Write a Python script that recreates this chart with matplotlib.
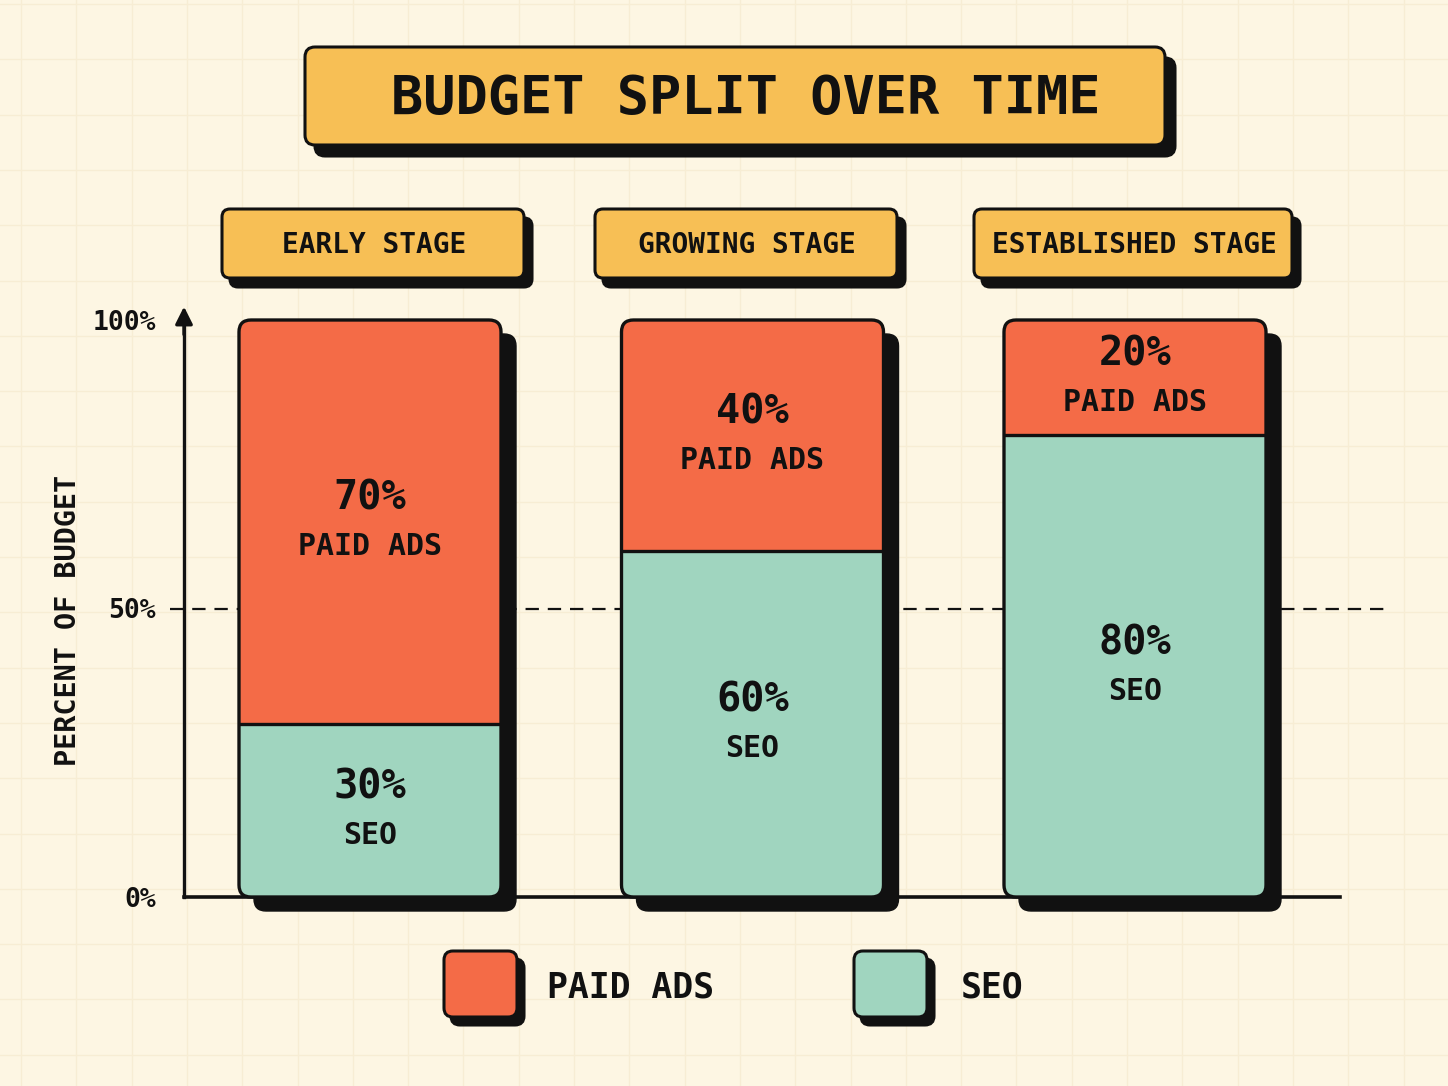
import numpy as np
import matplotlib
matplotlib.use('Agg')
import matplotlib.pyplot as plt
from matplotlib.patches import FancyBboxPatch
from matplotlib.transforms import offset_copy

# =============================================================================
# data
# =============================================================================
stages = ['EARLY STAGE', 'GROWING STAGE', 'ESTABLISHED STAGE']
series_names = ['PAID ADS', 'SEO']
paid_ads = [70, 40, 20]
seo = [30, 60, 80]
y_ticks = [0, 50, 100]
y_tick_labels = ['0%', '50%', '100%']
title = 'BUDGET SPLIT OVER TIME'
y_label = 'PERCENT OF BUDGET'

# =============================================================================
# style
# =============================================================================
BG = '#FDF6E3'
GRID = '#F7EDD4'
ORANGE = '#F46B47'
TEAL = '#A0D5BF'
YELLOW = '#F7BF55'
INK = '#111111'
FONT = 'DejaVu Sans Mono'
plt.rcParams['font.family'] = FONT

W, H = 1448, 1086
fig = plt.figure(figsize=(W / 100, H / 100), dpi=100, facecolor=BG)

# full figure axes in pixel coords for background and boxes
deco = fig.add_axes([0, 0, 1, 1])
deco.set_xlim(0, W)
deco.set_ylim(H, 0)
deco.axis('off')
deco.set_facecolor(BG)
for gx in np.arange(21, W, 55.3):
    deco.axvline(gx, color=GRID, lw=1, zorder=0)
for gy in np.arange(4, H, 55.3):
    deco.axhline(gy, color=GRID, lw=1, zorder=0)


def box(x0, y0, w, h, fc, shadow=(10, 10), r=10, lw=2.2):
    sh = FancyBboxPatch((x0 + shadow[0], y0 + shadow[1]), w, h,
                        boxstyle='round,pad=0,rounding_size=%d' % r,
                        fc=INK, ec=INK, lw=lw, zorder=2)
    deco.add_patch(sh)
    b = FancyBboxPatch((x0, y0), w, h,
                       boxstyle='round,pad=0,rounding_size=%d' % r,
                       fc=fc, ec=INK, lw=lw, zorder=3)
    deco.add_patch(b)


## title
box(305, 47, 860, 98, YELLOW, shadow=(10, 11))
deco.text(746, 99, title, fontsize=38.5, fontweight='bold', color=INK,
          ha='center', va='center', zorder=4)

## stage labels
stage_boxes = [(222, 302), (595, 302), (974, 318)]
for (bx, bw), lab in zip(stage_boxes, stages):
    box(bx, 209, bw, 69, YELLOW, shadow=(8, 9), r=8)
    deco.text(bx + bw / 2 + 1, 245, lab, fontsize=20, color=INK,
              ha='center', va='center', zorder=4, fontweight='semibold')

## legend
legend_x = [(444, 547), (854, 961)]
for (sx, tx), name, col in zip(legend_x, series_names, [ORANGE, TEAL]):
    box(sx, 951, 73, 66, col, shadow=(7, 8), r=9)
    deco.text(tx, 988, name, fontsize=25, color=INK, ha='left', va='center',
              zorder=4, fontweight='bold')

# =============================================================================
# data axes
# =============================================================================
ax_l, ax_r, ax_b, ax_t = 184, 1340, 897, 320
ax = fig.add_axes([ax_l / W, 1 - ax_b / H, (ax_r - ax_l) / W, (ax_b - ax_t) / H])
ax.set_facecolor('none')
px_x = 382.5  # pixels per category
px_y = (ax_b - ax_t) / 100.0
ax.set_xlim(-(370 - ax_l) / px_x, 2 + (ax_r - 1135) / px_x)
ax.set_ylim(0, 100)

for s in ['top', 'right']:
    ax.spines[s].set_visible(False)
ax.spines['left'].set_linewidth(2.4)
ax.spines['bottom'].set_linewidth(2.6)
ax.spines['left'].set_color(INK)
ax.spines['bottom'].set_color(INK)
ax.set_xticks([])
ax.set_yticks(y_ticks)
ax.set_yticklabels(y_tick_labels, fontsize=19, color=INK, fontweight='semibold')
ax.tick_params(axis='y', length=0, pad=20)

ax.annotate('', xy=(0, 1.028), xycoords='axes fraction', xytext=(0, 0.97),
            arrowprops=dict(arrowstyle='-|>', color=INK, lw=2.4, mutation_scale=26),
            annotation_clip=False)

# dashed 50% reference line
ax.plot([-14 / px_x + ax.get_xlim()[0], ax.get_xlim()[1] + 50 / px_x], [50, 50],
        color=INK, lw=1.6, ls=(0, (6, 4)), zorder=1, clip_on=False)

fig.text(68 / W, 1 - 620 / H, y_label, rotation=90, fontsize=20.5, color=INK,
         ha='center', va='center', fontweight='semibold')

bw = 0.685
rx = 12 / px_x
asp = px_x / px_y
shadow_tr = offset_copy(ax.transData, fig=fig, x=15, y=-14, units='dots')
for i in range(len(stages)):
    x0 = i - bw / 2
    sh = FancyBboxPatch((x0, 0), bw, 100, boxstyle='round,pad=0,rounding_size=%f' % rx,
                        mutation_aspect=asp, transform=shadow_tr, fc=INK, ec=INK,
                        lw=1, zorder=2, clip_on=False)
    ax.add_patch(sh)
    outline = FancyBboxPatch((x0, 0), bw, 100, boxstyle='round,pad=0,rounding_size=%f' % rx,
                             mutation_aspect=asp, fc='none', ec=INK, lw=2.4,
                             zorder=5, clip_on=False)
    ax.add_patch(outline)
    b1 = ax.bar(i, seo[i], bw, bottom=0, color=TEAL, zorder=3)
    b2 = ax.bar(i, paid_ads[i], bw, bottom=seo[i], color=ORANGE, zorder=3)
    for p in list(b1) + list(b2):
        p.set_clip_path(outline)
    ax.plot([x0, x0 + bw], [seo[i], seo[i]], color=INK, lw=2.4, zorder=4,
            solid_capstyle='butt')

    # segment labels
    for val, name, bottom in [(paid_ads[i], series_names[0], seo[i]),
                              (seo[i], series_names[1], 0)]:
        yc = bottom + val / 2
        ax.annotate('%d%%' % val, (i, yc), xytext=(0, 17), textcoords='offset points',
                    ha='center', va='center', fontsize=29, fontweight='bold',
                    color=INK, zorder=6)
        ax.annotate(name, (i, yc), xytext=(0, -18), textcoords='offset points',
                    ha='center', va='center', fontsize=21.5, fontweight='semibold',
                    color=INK, zorder=6)

fig.savefig('out.png', dpi=100, facecolor=BG)
